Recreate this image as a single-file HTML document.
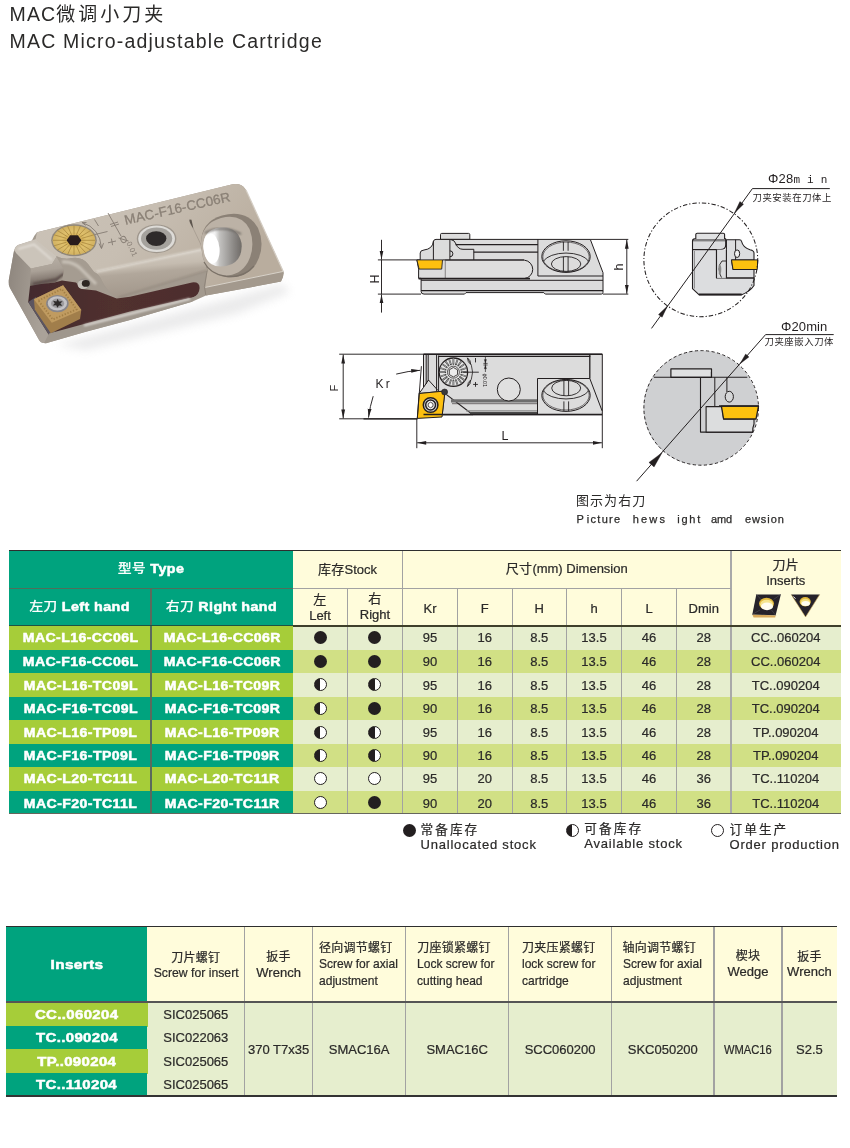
<!DOCTYPE html>
<html lang="zh"><head><meta charset="utf-8"><title>MAC Micro-adjustable Cartridge</title>
<style>
html,body{margin:0;padding:0;background:#fff}
body{width:850px;height:1148px;position:relative;overflow:hidden;font-family:"Liberation Sans","Noto Sans CJK SC",sans-serif;color:#2b2a29}
#pg{position:absolute;left:0;top:0;width:850px;height:1148px;will-change:transform}
.b{position:absolute}
.ttl{position:absolute;font-size:19.5px;line-height:22px;letter-spacing:1.15px;white-space:nowrap;color:#2b2a29}
.ttl .cj{letter-spacing:3px;font-size:19px}
.t,.hw,.mw{position:absolute;text-align:center;white-space:nowrap;font-size:13px}
.t,.t2,.lg,.h2{-webkit-text-stroke:0.22px #2b2a29}
.hw,.mw{color:#fff;font-weight:bold}
.hw{font-size:13px;margin-top:-0.4px}
.mw{font-size:12.8px}
.sx{display:inline-block;transform:scaleX(1.1);letter-spacing:0.38px;-webkit-text-stroke:0.5px #fff}
.hw .cj{font-weight:400;font-size:12.3px;-webkit-text-stroke:0.4px #fff;letter-spacing:0.4px}
.sx2{display:inline-block;transform:scaleX(1.17);letter-spacing:0.3px;-webkit-text-stroke:0.5px #fff}
.cj{font-family:"Noto Sans CJK SC","Liberation Sans",sans-serif}
.t .cj,.t2 .cj{font-size:13px;letter-spacing:0.3px}
.t2{position:absolute;text-align:center;font-size:13px;line-height:16.4px;white-space:nowrap}
.dot{position:absolute;width:13px;height:13px;border-radius:50%;box-sizing:border-box}
.dot.f{background:#231f20}
.dot.o{background:#fff;border:1.3px solid #231f20}
.dot.h{background:linear-gradient(90deg,#231f20 50%,#fff 50%);border:1.3px solid #231f20}
.lg{position:absolute;font-size:13px;line-height:14.5px;letter-spacing:0.8px;white-space:nowrap}
.lg .cj{letter-spacing:2.1px;font-size:12.6px}
.h2{position:absolute;font-size:13px;line-height:17px;white-space:nowrap}
.h2.c{text-align:center}
.h2.cj{font-size:12px;letter-spacing:0.25px}
.h2 .en{display:inline-block;transform:scaleX(0.925);transform-origin:0 50%}
.h2.c .en{transform-origin:50% 50%}
.nar{display:inline-block;transform:scaleX(0.86)}
.cap1{position:absolute;font-family:"Noto Sans CJK SC","Liberation Sans",sans-serif;font-size:13px;line-height:18px;letter-spacing:1.05px;white-space:nowrap}
.cap2{-webkit-text-stroke:0.25px #2b2a29}
.cap2{position:absolute;font-family:"Liberation Sans",sans-serif;font-size:11px;line-height:18px;white-space:nowrap;width:220px;height:18px}
.cap2 span{position:absolute;top:0}
svg{position:absolute;left:0;top:0}
</style></head>
<body>
<div id="pg">
<div class="ttl" style="left:9.5px;top:2.4px">MAC<span class="cj">微调小刀夹</span></div>
<div class="ttl" style="left:9.5px;top:30.2px;letter-spacing:1.2px">MAC Micro-adjustable Cartridge</div>
<svg width="300" height="380" viewBox="0 0 300 380" style="font-family:'Liberation Sans',sans-serif">
<defs>
<filter id="pb" x="-5%" y="-5%" width="110%" height="110%"><feGaussianBlur stdDeviation="0.6"/></filter>
<filter id="sh" x="-30%" y="-80%" width="160%" height="260%"><feGaussianBlur stdDeviation="5"/></filter>
<filter id="b1" x="-30%" y="-30%" width="160%" height="160%"><feGaussianBlur stdDeviation="1.2"/></filter>
<filter id="b2" x="-30%" y="-30%" width="160%" height="160%"><feGaussianBlur stdDeviation="2.5"/></filter>
<linearGradient id="gTop" x1="0" y1="0" x2="1" y2="0.35"><stop offset="0" stop-color="#cbc3b8"/><stop offset="0.5" stop-color="#c7beb2"/><stop offset="1" stop-color="#b9ad9e"/></linearGradient>
<linearGradient id="gLeft" x1="0" y1="0" x2="1" y2="0.3"><stop offset="0" stop-color="#8d857d"/><stop offset="0.6" stop-color="#a0988f"/><stop offset="1" stop-color="#aaa299"/></linearGradient>
<linearGradient id="gBev" x1="0" y1="0" x2="0.2" y2="1"><stop offset="0" stop-color="#d6cfc6"/><stop offset="0.42" stop-color="#c5bcb0"/><stop offset="0.55" stop-color="#b1a79b"/><stop offset="1" stop-color="#a2978b"/></linearGradient>
<linearGradient id="gBrown" x1="0" y1="0" x2="1" y2="0"><stop offset="0" stop-color="#432b2d"/><stop offset="0.5" stop-color="#51302f"/><stop offset="1" stop-color="#4d2e2e"/></linearGradient>
<linearGradient id="gHole" x1="0" y1="0" x2="1" y2="0"><stop offset="0" stop-color="#ffffff"/><stop offset="0.3" stop-color="#f2f2f2"/><stop offset="0.42" stop-color="#c3c2c0"/><stop offset="0.8" stop-color="#8a8784"/><stop offset="1" stop-color="#6f6b67"/></linearGradient>
<radialGradient id="gGold" cx="0.5" cy="0.5" r="0.5"><stop offset="0" stop-color="#c79d42"/><stop offset="0.6" stop-color="#dfc06c"/><stop offset="1" stop-color="#d2b262"/></radialGradient>
<linearGradient id="gNotch" x1="0" y1="0" x2="0.15" y2="1"><stop offset="0" stop-color="#bab2a8"/><stop offset="0.5" stop-color="#aaa197"/><stop offset="0.8" stop-color="#857a72"/><stop offset="1" stop-color="#6b5f59"/></linearGradient>
</defs>
<!-- shadow -->
<path d="M56 345 L282 284 L290 292 L236 314 L86 350 Z" fill="#cfcfd0" filter="url(#sh)" opacity="0.42"/>
<g filter="url(#pb)">
<!-- silhouette / front face -->
<path d="M37 232.3 L232.5 184.3 Q241 182.5 245.3 189 L283.4 271.4 Q284.2 276 281 281.6 L206 295.6 L192 301.8 L130 320 L85 332 L46 343.2 Q41 343.5 38.8 339.5 L10 288 Q8.3 285 8.8 280 L14 251 Q15 246.5 18 245 L31.8 240.7 Q34.5 235 37 232.3 Z" fill="#a39a8f"/>
<!-- left face -->
<path d="M14 251 L31 262 L30 287 L28.5 302 L49 336 L44.2 343 Q41 343.5 38.8 339.5 L10 288 Q8.3 285 8.8 280 Z" fill="url(#gLeft)"/>
<!-- lip on top-left -->
<path d="M14.5 250 Q15 246.5 18 245 L36 239 L57 256 L52 264 L31 268.5 L16 253 Z" fill="#cbc4ba"/>
<path d="M31 268.5 L52 264 L57 256 L66 259 L66 271 L56 282 L30 287 Z" fill="url(#gNotch)"/>
<path d="M33 284 L56 279.5 L64 274" stroke="#5a4c48" stroke-width="2.4" fill="none" filter="url(#b1)"/>
<path d="M18 249 L34 244.5 L52 260" stroke="#e6e2dc" stroke-width="1.6" fill="none" filter="url(#b1)"/>
<!-- top face -->
<path d="M37 232.3 L232.5 184.3 Q241 182.5 245.3 189 L283.4 271.4 L205.3 287.4 L207.2 270.5 L202.5 248.8 L94 272 L88 264 Q82 256.5 72 258 Q64 260 56 256 L35.5 239.5 Z" fill="url(#gTop)"/>
<!-- right block front -->
<path d="M283.4 271.4 Q284.2 276 281 281.6 L206 295.6 L205.3 287.4 Z" fill="#a3998d"/>
<path d="M205.3 287.4 L283.4 271.4" stroke="#d8d2c9" stroke-width="1" fill="none"/>
<path d="M202.5 248.8 L207.2 270.5 L204.4 286.5 L205.8 295" stroke="#8f857a" stroke-width="1" fill="none"/>
<!-- bevel -->
<path d="M94 272 L202.5 248.8 L207.2 270.5 L116.7 298.4 Q106 290 102 281 Q99 274 94 272 Z" fill="url(#gBev)"/>
<path d="M96 271.8 L202 249.3" stroke="#e3ded6" stroke-width="1.8" fill="none" filter="url(#b1)"/>
<path d="M118 297.6 L207 270.2" stroke="#8f857a" stroke-width="1.2" fill="none" filter="url(#b1)"/>
<!-- notch concave -->
<path d="M56 256 Q64 260 72 258 Q82 256.5 88 264 L94 272 Q99 274 102 281 Q106 290 116.7 298.4 L96 291 L82 289.5 L76 283 L62 281 L64 270 Z" fill="#a59c91"/>
<path d="M62 262 Q72 261 80 268 Q88 276 96 284" stroke="#c9c2b8" stroke-width="3" fill="none" filter="url(#b1)"/>
<!-- brown pocket & slot -->
<path d="M30 286 L39.5 284.2 L54.6 282.4 L62 280.5 L76 282.6 L82 289 L96 290.6 L116.7 298.4 L130 296.8 L192 282.4 Q199.8 281.6 199.6 288 Q199.3 295.5 192.1 297.8 L130 312.8 L49 335 L28.2 302 Z" fill="url(#gBrown)"/>
<path d="M28.2 302 L36 297 L56 333 L49 335 Z" fill="#5b5560"/>
<!-- bottom rim -->
<path d="M49 333.5 L130 311.6 L192.1 297.4 L197 296 L192 301.8 L130 320 L85 332 L46 343.2 L44.2 343 Z" fill="#9f978d"/>
<path d="M84 325.6 L190 298.8" stroke="#f4f2ef" stroke-width="1.5" fill="none" filter="url(#b1)"/>
<!-- small screw hole -->
<ellipse cx="84.3" cy="283.6" rx="6.6" ry="5.4" fill="#9b948c"/>
<ellipse cx="83" cy="284.5" rx="5.4" ry="4.6" fill="#c4bfb8"/>
<ellipse cx="85.8" cy="283.4" rx="4" ry="3.4" fill="#2d2524"/>
<!-- insert -->
<path d="M33.9 299.3 L63.1 285.2 L81.3 310 L80 319 L50.8 333.2 L34.8 309.6 Z" fill="#a17e4c"/>
<path d="M33.9 299.3 L63.1 285.2 L81.3 310 L51.8 322.8 Z" fill="#c09b60"/>
<path d="M38.4 300.6 L61.8 289 L76.6 309.4 L52.8 319.4 Z" fill="none" stroke="#a27e45" stroke-width="1.8" stroke-dasharray="1.3 1.7"/>
<ellipse cx="57.4" cy="303.6" rx="11.3" ry="8.6" fill="#87858a"/>
<ellipse cx="57.4" cy="303.4" rx="9.6" ry="7.2" fill="#c4c3c6"/>
<ellipse cx="57.6" cy="303.4" rx="6.6" ry="4.9" fill="#9d9b9e"/>
<path d="M57.6 298.8 L59 301.6 L62.6 301.2 L60.4 303.4 L62.4 305.8 L59 305.4 L57.4 307.8 L56.2 305.2 L52.8 305.6 L54.8 303.2 L53 300.8 L56.4 301.4 Z" fill="#2e2c2b"/>
<!-- gold screw -->
<ellipse cx="74" cy="240.3" rx="22.8" ry="16" fill="#8f877c"/>
<ellipse cx="74" cy="240.3" rx="21.4" ry="14.6" fill="url(#gGold)"/>
<g stroke="#a5833a" stroke-width="0.8" fill="none" opacity="0.9">
<path d="M82 240.3 H95 M81.6 242.2 L94 245.8 M80.4 243.8 L90.8 250.2 M78.6 245 L86 253.1 M76.4 245.8 L80.4 254.6 M74 246 V255 M71.6 245.8 L67.6 254.6 M69.4 245 L62 253.1 M67.6 243.8 L57.2 250.2 M66.4 242.2 L54 245.8 M66 240.3 H53 M66.4 238.4 L54 234.8 M67.6 236.8 L57.2 230.4 M69.4 235.6 L62 227.5 M71.6 234.8 L67.6 226 M74 234.6 V225.6 M76.4 234.8 L80.4 226 M78.6 235.6 L86 227.5 M80.4 236.8 L90.8 230.4 M81.6 238.4 L94 234.8"/>
</g>
<path d="M66.5 240.3 L70.2 235.3 L77.8 235.3 L81.5 240.3 L77.8 245.3 L70.2 245.3 Z" fill="#2a1f1a"/>
<!-- engraved marks -->
<g stroke="#857c73" stroke-width="0.9" fill="none">
<path d="M82 222.5 Q100 228 101.5 248" />
<path d="M99 243.5 L101.5 248.6 L103.5 243.2 M86.5 222.5 L82 222.4 L85.6 225.4"/>
<path d="M94.5 219.5 L98.5 226 M95 234.5 L107.5 231.5 M108 213 L121 236 M110 224.5 L118 222 M111 226.5 L119 224 M108 242.8 L116 241 M111.4 238.6 L112.6 245.2"/>
<ellipse cx="123.5" cy="239.5" rx="3.2" ry="2.6" transform="rotate(65 123.5 239.5)"/>
<path d="M118.5 238 L128.5 241"/>
</g>
<text transform="translate(126.5 243) rotate(65)" font-size="7.4" fill="#857c73" letter-spacing="0.3">0.01</text>
<text transform="translate(125.6 224.8) rotate(-12.7)" font-size="13.4" fill="#8a8076" stroke="#8a8076" stroke-width="0.3" letter-spacing="0.2">MAC-F16-CC06R</text>
<!-- silver screw -->
<ellipse cx="156.6" cy="238.8" rx="19.8" ry="14.4" fill="#9f978d"/>
<ellipse cx="156.6" cy="238.8" rx="18.4" ry="13.2" fill="#dddbd7"/>
<ellipse cx="156.6" cy="238.6" rx="15.6" ry="11.2" fill="#a5a29d"/>
<ellipse cx="156.2" cy="238.6" rx="10.2" ry="7.4" fill="#2f2b29"/>
<!-- notch mark -->
<path d="M189.5 219.5 Q188.5 221.5 193.5 229 L191.5 219.8 Z" fill="#5d554e"/>
<path d="M193 228 L203 249" stroke="#a59b8f" stroke-width="0.8" fill="none"/>
<!-- big hole -->
<path d="M201 246 Q200 222 222 215.5 Q247 209 258 228 Q266 246 256 264 Q246 279 226 277 Q209 275 203 258 Z" fill="#8b8176"/>
<path d="M201 246 Q200 224 221 218 Q241 213 249.5 229 Q256 246 248 262 Q240 276 224 275.5 Q208 274 203 258 Z" fill="#bcb2a6"/>
<path d="M204 262 Q210 274 226 276.4 Q244 278 254 266" stroke="#7a7167" stroke-width="1.2" fill="none"/>
<path d="M203.4 246 Q203.5 229.5 220 227.5 Q238 226 241.5 243 Q243 258 232 264 Q220 269 211 264 Q204 258 203.4 246 Z" fill="url(#gHole)"/>
<ellipse cx="211.5" cy="248.5" rx="8" ry="15.2" fill="#ffffff" transform="rotate(-6 211.5 248.5)"/>
<path d="M205 233 Q222 224 241 234" stroke="#68635e" stroke-width="1.6" fill="none" filter="url(#b1)"/>
<!-- right edge highlight -->
<path d="M246 190 L283 271" stroke="#d5cec5" stroke-width="1.2" fill="none"/>
</g>
</svg>

<svg width="850" height="540" viewBox="0 0 850 540" style="font-family:'Liberation Sans','Noto Sans CJK SC',sans-serif">
<defs>
<marker id="ah" markerWidth="11" markerHeight="6" refX="9" refY="3" orient="auto" markerUnits="userSpaceOnUse"><path d="M0 1.1 L9 3 L0 4.9 Z" fill="#231f20"/></marker>
<marker id="ahs" markerWidth="11" markerHeight="6" refX="0.5" refY="3" orient="auto" markerUnits="userSpaceOnUse"><path d="M9.5 1.1 L0.5 3 L9.5 4.9 Z" fill="#231f20"/></marker>
</defs>
<g fill="none" stroke="#231f20" stroke-width="1" stroke-linejoin="round">
<!-- ===== side view (top drawing) ===== -->
<g>
<path d="M440.5 239.4 V234.6 Q440.5 233.4 441.7 233.4 H468.6 Q469.8 233.4 469.8 234.6 V239.4 Z" fill="#dcdcdc"/>
<path d="M436 239.4 H590.3 L603 272.7 V292.4 Q603 294.1 601.3 294.1 H545.3 L543.8 292.6 H466 L464.5 294.1 H424 Q421.1 294.1 421.1 291.5 V278.3 H418.6 V269.1 L416.9 259.9 H420.2 V253 Q420.2 250.3 424 250 Q432.5 249 433.4 241.5 Q433.6 239.4 436 239.4 Z" fill="#dcdcdc"/>
<path d="M416.9 259.9 H442.5 L441.7 269.1 H419.1 Z" fill="#fdc00f" stroke-width="0.9"/>
<path d="M433.4 241 V259.9 M449.9 239.6 V259.9 M445.4 259.9 V278.3 M442.5 259.9 H524"/>
<path d="M449.9 250.8 A3 3 0 0 1 449.9 256.8"/>
<path d="M451 239.6 Q454.5 240 456 244 Q458 249.3 463 249.3 H473.8 V259.9"/>
<path d="M455.5 244.7 H537.9 M473.8 252.1 H537.9" stroke-width="1.3"/>
<path d="M445.4 260.2 H524.5 A9.2 9.2 0 0 1 524.5 278.5 H445.4" fill="#dedede"/>
<path d="M418.6 278.6 H530" stroke-width="1.6"/>
<path d="M421.1 280.3 H603" />
<path d="M421.1 290.6 H603" stroke-width="1.2"/>
<path d="M537.9 239.4 V276 H603" />
<ellipse cx="566" cy="256.6" rx="24.2" ry="15.8" fill="#dcdcdc"/>
<ellipse cx="566" cy="257" rx="23.2" ry="14.9" stroke-width="0.6"/>
<path d="M543.3 261.4 A23.6 11.5 0 0 1 588.7 261.4" stroke-width="0.9"/>
<ellipse cx="566.1" cy="264" rx="14.7" ry="7.4" stroke-width="0.9"/>
<path d="M563.4 241.8 V250.8 M568.1 241.8 V250.8 M563.4 256.7 V271.6 M568.1 256.7 V271.6" stroke-width="0.9"/>
<!-- dims -->
<path d="M377.9 259.9 H416.9 M377.9 294.1 H421 M590.3 239.4 H628.3 M603 294.1 H628.3" stroke-width="0.95"/>
<path d="M381.5 239.8 V259.6" marker-end="url(#ah)" stroke-width="0.95"/>
<path d="M381.5 312.6 V294.4" marker-end="url(#ah)" stroke-width="0.95"/>
<path d="M381.5 259.9 V294.1" stroke-width="0.95"/>
<path d="M626.8 239.8 V293.8" marker-start="url(#ahs)" marker-end="url(#ah)" stroke-width="0.95"/>
</g>
<!-- ===== top view (bottom drawing) ===== -->
<g>
<path d="M423.5 354.2 H602.3 V414.7 H442.2 L444.6 394.5 L442.9 391.2 L419.1 393.5 L423.5 387.4 Z" fill="#dcdcdc"/>
<path d="M442.2 414.7 H472.9" stroke-width="0.9"/>
<path d="M423.5 354.2 H602.3" stroke-width="1.4"/>
<path d="M426.2 355 V384 M428.2 355 V381 M436.6 355 V391.5 M438.6 355.5 V391"/>
<path d="M423.5 387.4 L428.5 380 L438 390.5"/>
<path d="M438.6 356.4 H590.3" stroke-width="1.3"/>
<path d="M419.1 393.5 L442.9 391.2 L444.6 394.5 L442 417 L417.3 418.4 Z" fill="#fdc00f" stroke-width="1"/>
<circle cx="444.6" cy="392" r="3" fill="#3a3a3a" stroke-width="0.6"/>
<circle cx="430.6" cy="405" r="7.3" fill="#cfcfcf" stroke-width="1.5"/>
<circle cx="430.6" cy="405" r="4.9" fill="#f4f4f4" stroke-width="1.5"/>
<path d="M430.6 402.2 L433 403.6 V406.4 L430.6 407.8 L428.2 406.4 V403.6 Z" fill="#fff" stroke-width="0.8"/>
<path d="M446.5 394.6 L472.9 414.7" stroke-width="1.1"/>
<path d="M451 400.9 H537.6" stroke="#6e6e6e" stroke-width="3.3"/>
<path d="M452 403.7 H537.6" stroke-width="0.6"/>
<path d="M466 410.8 H537.6" stroke="#8a8a8a" stroke-width="1.2"/>
<path d="M470 412.9 H537.6" stroke="#4a4a4a" stroke-width="2"/>
<!-- gear -->
<circle cx="453.4" cy="372.2" r="14.2" fill="#e4e4e4" stroke-width="1.3"/>
<path d="M461.6 372.2 L466.3 372.2 M461.2 374.7 L465.7 376.2 M460.0 377.0 L463.8 379.8 M458.2 378.8 L461.0 382.6 M455.9 380.0 L457.4 384.5 M453.4 380.4 L453.4 385.1 M450.9 380.0 L449.4 384.5 M448.6 378.8 L445.8 382.6 M446.8 377.0 L443.0 379.8 M445.6 374.7 L441.1 376.2 M445.2 372.2 L440.5 372.2 M445.6 369.7 L441.1 368.2 M446.8 367.4 L443.0 364.6 M448.6 365.6 L445.8 361.8 M450.9 364.4 L449.4 359.9 M453.4 364.0 L453.4 359.3 M455.9 364.4 L457.4 359.9 M458.2 365.6 L461.0 361.8 M460.0 367.4 L463.8 364.6 M461.2 369.7 L465.7 368.2" stroke-width="1.7" stroke="#3a3a3a" stroke-linecap="round"/>
<path d="M462.3 372.2 L466.7 372.2 M461.9 375.0 L466.0 376.3 M460.6 377.4 L464.2 380.0 M458.6 379.4 L461.2 383.0 M456.2 380.7 L457.5 384.8 M453.4 381.1 L453.4 385.5 M450.6 380.7 L449.3 384.8 M448.2 379.4 L445.6 383.0 M446.2 377.4 L442.6 380.0 M444.9 375.0 L440.8 376.3 M444.5 372.2 L440.1 372.2 M444.9 369.4 L440.8 368.1 M446.2 367.0 L442.6 364.4 M448.2 365.0 L445.6 361.4 M450.6 363.7 L449.3 359.6 M453.4 363.3 L453.4 358.9 M456.2 363.7 L457.5 359.6 M458.6 365.0 L461.2 361.4 M460.6 367.0 L464.2 364.4 M461.9 369.4 L466.0 368.1" stroke-width="0.55" stroke="#f2f2f2" stroke-linecap="round"/>
<circle cx="453.4" cy="372.2" r="6" fill="#e4e4e4" stroke-width="0.7"/>
<path d="M457.5 374.6 L453.4 376.9 L449.3 374.6 L449.3 369.8 L453.4 367.5 L457.5 369.8 Z" fill="#ececec" stroke-width="0.8"/>
<path d="M467.6 358.2 Q477.6 372.2 467.6 386.2" stroke-width="0.8"/>
<path d="M467.4 357.8 Q471.4 360.5 470.6 364.4 Q467.6 362.5 467.4 357.8 Z M467.4 386.6 Q471.4 383.9 470.6 380 Q467.6 381.9 467.4 386.6 Z" stroke-width="0.7"/>
<path d="M463.2 372.2 H478.8" stroke-width="0.9"/>
<path d="M475.5 358 V362.4 M473.1 384.4 H477.9 M475.5 382 V386.8" stroke-width="0.9"/>
<path d="M485.4 356.6 V372" stroke-width="0.7"/>
<path d="M483.4 363.4 H487.6 M483.4 365 H487.6" stroke-width="0.7"/>
<path d="M485.4 363.2 L484.3 359.6 H486.5 Z M485.4 365.2 L484.3 368.8 H486.5 Z" fill="#231f20" stroke-width="0.3"/>
<circle cx="508.8" cy="389.5" r="11.5" fill="#e0e0e0"/>
<!-- pocket -->
<path d="M537.5 414.4 V378.5 H589.8 L602.3 411.4" fill="#dedede"/>
<path d="M589.8 354.2 V378.5" stroke-width="1.3"/>
<ellipse cx="566" cy="395.4" rx="24.2" ry="16" fill="#dcdcdc"/>
<ellipse cx="566" cy="395" rx="23.2" ry="15" stroke-width="0.6"/>
<path d="M543.3 390.6 A23.6 11.5 0 0 0 588.7 390.6" stroke-width="0.9"/>
<ellipse cx="566.2" cy="388.1" rx="14.5" ry="7.7" stroke-width="0.9"/>
<path d="M563.9 380.8 V395.6 M568.6 380.8 V395.6 M563.9 401.4 V411.2 M568.6 401.4 V411.2" stroke-width="0.9"/>
<path d="M423.5 414.5 H602.3" stroke-width="1.3"/>
<!-- dims -->
<path d="M339.2 354.2 H423.5 M339.2 418.8 H417.3" stroke-width="0.95"/>
<path d="M363.5 418.8 H417.3" stroke-width="1.3"/>
<path d="M343.2 354.6 V418.4" marker-start="url(#ahs)" marker-end="url(#ah)" stroke-width="0.95"/>
<path d="M421.4 366.2 L417.3 418.8" stroke-width="0.95"/>
<path d="M396.2 374.1 Q408 371 420.2 370.3" marker-end="url(#ah)" stroke-width="0.95"/>
<path d="M373.2 396.2 Q370 406 368.5 417.6" marker-end="url(#ah)" stroke-width="0.95"/>
<path d="M416.8 418.8 V448.2 M602.3 414.7 V448.2" stroke-width="0.95"/>
<path d="M417.2 442.8 H601.9" marker-start="url(#ahs)" marker-end="url(#ah)" stroke-width="0.95"/>
</g>
<!-- ===== detail circle 1 ===== -->
<g>
<path d="M692.5 241 Q692.5 238.9 694.6 238.9 H725.7 V245 Q725.7 249.6 720.5 249.6 H716.5 V277.9 H754 V285.5 Q750 291.5 741.7 294.7 H698.9 L692.5 288.6 Z" fill="#dcdddf" stroke-width="1.1"/>
<path d="M726.4 277.9 V239.7 H739.4 Q741.2 239.7 741.6 241.5 Q743 247.6 750 249.8 Q754 250.6 754 253 V260 H731.5 L733 269.5 H754 V277.9 Z" fill="#dcdddf" stroke-width="1.1"/>
<path d="M695.8 238.9 V234.6 Q695.8 233.2 697.2 233.2 H723.2 Q724.6 233.2 724.6 234.6 V238.9" fill="#e1e2e3" stroke-width="1.1"/>
<path d="M693 240.8 H725.4" stroke-width="0.7"/>
<path d="M692.8 249.6 H717" stroke-width="1.2"/>
<path d="M694.4 251 V288.5" stroke="#7d7d7d" stroke-width="0.9"/>
<path d="M698.9 294.5 H741.7" stroke-width="1.8"/>
<path d="M735.6 239.7 V260" />
<rect x="716.5" y="249.6" width="10" height="28.3" fill="#dcdddf" stroke="none"/>
<path d="M716.5 249.6 V277.9 M726.4 249.6 V277.9" stroke-width="1.1"/>
<path d="M726.4 261 H722 Q718.8 264.5 719 269 Q719.2 274 721.5 277.5" stroke-width="0.9"/>
<path d="M719.4 265 Q721.2 269 719.6 274" stroke-width="2" stroke="#8a8a8a"/>
<ellipse cx="737.1" cy="253.7" rx="2.6" ry="3.8" fill="#f0f0f0"/>
<path d="M731.5 259.9 H757.8 L757.2 269.5 H733 Z" fill="#fdc20f" stroke-width="1"/>
<circle cx="700.8" cy="259.8" r="56.9" stroke-dasharray="4.4 2 1.2 2" stroke-width="1.05"/>
<path d="M651.5 328.4 L752.4 188.6 H829.8" stroke-width="1"/>
<path d="M734.5 212.9 L743.5 204.2 L739.9 201.6 Z M667.5 305.9 L662.1 317.2 L658.5 314.6 Z" fill="#231f20" stroke-width="0.4"/>
</g>
<!-- ===== detail circle 2 ===== -->
<g>
<circle cx="700.8" cy="408" r="57.4" fill="#cfd0d2" stroke="none"/>
<rect x="670.9" y="368.9" width="40.6" height="8.4" fill="#dfe0e1" stroke-width="1.2"/>
<path d="M653.9 377.3 H747.3" stroke-width="1.1"/>
<path d="M711.4 376.8 V372"/>
<path d="M700.5 377.3 V432.1 H753" stroke-width="1.1"/>
<path d="M714.8 377.3 V406.5 M726.9 377.3 V392"/>
<path d="M706.1 432.1 V406.6 H722 L723.6 419 H754 V424 Q752.4 428 752.7 432.1 H706.1 Z" fill="#dcddde" stroke-width="1.1"/>
<ellipse cx="729.3" cy="396.7" rx="4.1" ry="5.4" fill="#d6d7d8"/>
<path d="M721.4 406.1 H758.5 L756 419 H723.6 Z" fill="#fdc20f" stroke-width="1.3"/>
<path d="M719 406 H759" stroke-width="1.3"/>
<circle cx="701.2" cy="407.9" r="57.3" stroke-dasharray="3.2 2.4" stroke-width="0.95"/>
<path d="M636.6 481.2 L765.6 334.6 H833.7" stroke-width="1"/>
<path d="M740 363.8 L748.95 356.95 L745.65 354.05 Z M662.1 452.7 L654.05 466.95 L648.95 462.45 Z" fill="#231f20" stroke-width="0.4"/>
</g>
</g>
<!-- labels -->
<g fill="#231f20" stroke="none">
<text transform="translate(378.6 283.6) rotate(-90)" font-size="12.5">H</text>
<text transform="translate(623 270.4) rotate(-90)" font-size="12.5">h</text>
<text transform="translate(338.2 391.6) rotate(-90)" font-size="11">F</text>
<text x="375.6" y="388" font-size="12" letter-spacing="2.2">Kr</text>
<text x="501.6" y="440" font-size="12.5">L</text>
<text x="768" y="183" font-size="13" letter-spacing="0.2">Φ28<tspan font-family="'Liberation Mono',monospace" font-size="11" letter-spacing="7">min</tspan></text>
<text x="752.5" y="201.3" font-size="9.4" letter-spacing="0.55" font-family="'Noto Sans CJK SC','Liberation Sans',sans-serif">刀夹安装在刀体上</text>
<text x="781" y="331" font-size="13" letter-spacing="0.1">Φ20min</text>
<text x="764.5" y="345.4" font-size="9.4" letter-spacing="0.55" font-family="'Noto Sans CJK SC','Liberation Sans',sans-serif">刀夹座嵌入刀体</text>
<text transform="translate(483.3 373.4) rotate(90)" font-size="5.6" letter-spacing="-0.1">ϕ0.01</text>
</g>
</svg>

<div class="cap1" style="left:576px;top:491px">图示为右刀</div>
<div class="cap2" style="left:576px;top:510px"><span style="left:0.4px;letter-spacing:0.00px">P</span><span style="left:10.8px;letter-spacing:1.28px">icture</span><span style="left:56.8px;letter-spacing:2.17px">hews</span><span style="left:101.2px;letter-spacing:1.79px">ight</span><span style="left:135.0px;letter-spacing:-0.10px">amd</span><span style="left:168.9px;letter-spacing:0.95px">ewsion</span></div>
<div class="b" style="left:9px;top:550.4px;width:284.5px;height:76.2px;background:#00a37e;"></div>
<div class="b" style="left:292.5px;top:550.4px;width:548px;height:76.2px;background:#fffcdb;"></div>
<div class="b" style="left:9px;top:625.6px;width:284.5px;height:25.3px;background:#a6cd39;"></div>
<div class="b" style="left:292.5px;top:625.6px;width:548px;height:25.3px;background:#e6eece;"></div>
<div class="b" style="left:9px;top:649.9px;width:284.5px;height:24px;background:#00a37e;"></div>
<div class="b" style="left:292.5px;top:649.9px;width:548px;height:24px;background:#d1e085;"></div>
<div class="b" style="left:9px;top:672.9px;width:284.5px;height:25px;background:#a6cd39;"></div>
<div class="b" style="left:292.5px;top:672.9px;width:548px;height:25px;background:#e6eece;"></div>
<div class="b" style="left:9px;top:696.9px;width:284.5px;height:23.9px;background:#00a37e;"></div>
<div class="b" style="left:292.5px;top:696.9px;width:548px;height:23.9px;background:#d1e085;"></div>
<div class="b" style="left:9px;top:719.8px;width:284.5px;height:25.2px;background:#a6cd39;"></div>
<div class="b" style="left:292.5px;top:719.8px;width:548px;height:25.2px;background:#e6eece;"></div>
<div class="b" style="left:9px;top:744px;width:284.5px;height:24.1px;background:#00a37e;"></div>
<div class="b" style="left:292.5px;top:744px;width:548px;height:24.1px;background:#d1e085;"></div>
<div class="b" style="left:9px;top:767.1px;width:284.5px;height:25px;background:#a6cd39;"></div>
<div class="b" style="left:292.5px;top:767.1px;width:548px;height:25px;background:#e6eece;"></div>
<div class="b" style="left:9px;top:791.1px;width:284.5px;height:22.6px;background:#00a37e;"></div>
<div class="b" style="left:292.5px;top:791.1px;width:548px;height:22.6px;background:#d1e085;"></div>
<div class="hw" style="left:9px;top:550.4px;width:283.5px;height:37.9px;line-height:37.9px;"><span class="sx"><span class="cj">型号</span> Type</span></div>
<div class="hw" style="left:9px;top:588.3px;width:142px;height:37.3px;line-height:37.3px;"><span class="sx"><span class="cj">左刀</span> Left hand</span></div>
<div class="hw" style="left:151px;top:588.3px;width:141.5px;height:37.3px;line-height:37.3px;"><span class="sx"><span class="cj">右刀</span> Right hand</span></div>
<div class="t" style="left:292.5px;top:550.4px;width:110px;height:37.9px;line-height:37.9px;"><span class="cj">库存</span>Stock</div>
<div class="t2" style="left:292.5px;top:590.5px;width:55.0px"><span class="cj">左</span><br>Left</div>
<div class="t2" style="left:347.5px;top:589.5px;width:55.0px"><span class="cj">右</span><br>Right</div>
<div class="t" style="left:402.5px;top:550.4px;width:328.5px;height:36.9px;line-height:36.9px;"><span class="cj">尺寸</span>(mm) Dimension</div>
<div class="t" style="left:402.5px;top:589.5px;width:55px;height:37.3px;line-height:37.3px;">Kr</div>
<div class="t" style="left:457.5px;top:589.5px;width:54.5px;height:37.3px;line-height:37.3px;">F</div>
<div class="t" style="left:512px;top:589.5px;width:54.5px;height:37.3px;line-height:37.3px;">H</div>
<div class="t" style="left:566.5px;top:589.5px;width:55px;height:37.3px;line-height:37.3px;">h</div>
<div class="t" style="left:621.5px;top:589.5px;width:55px;height:37.3px;line-height:37.3px;">L</div>
<div class="t" style="left:676.5px;top:589.5px;width:54.5px;height:37.3px;line-height:37.3px;">Dmin</div>
<div class="t2" style="left:731px;top:555.6px;width:109.5px;line-height:16px"><span class="cj">刀片</span><br>Inserts</div>
<svg width="90" height="30" viewBox="745 590 90 30" style="left:745px;top:590px">
<defs><filter id="ib" x="-10%" y="-10%" width="120%" height="120%"><feGaussianBlur stdDeviation="0.35"/></filter></defs>
<g filter="url(#ib)">
<path d="M752.3 614.6 L775.6 615.4 L775.2 617.6 L753.6 617.5 Z" fill="#d9a95a"/>
<path d="M756.3 594.4 L780.8 594.4 L775.6 615.3 L752.3 614.4 Z" fill="#25232a"/>
<path d="M756.3 594.4 L761 599.5 M780.8 594.4 L773.5 599.5 M775.6 615.3 L771.5 610 M752.3 614.4 L760 610" stroke="#4a4850" stroke-width="0.7" fill="none"/>
<ellipse cx="766.5" cy="603.6" rx="7.5" ry="5.9" fill="#e2b93c"/>
<ellipse cx="766.6" cy="604.3" rx="6.4" ry="4.6" fill="#f6e58f"/>
<ellipse cx="767" cy="606.4" rx="6" ry="3.8" fill="#fffdf0"/>
<path d="M791.1 594.4 L819.8 594.4 L805.6 616.9 Z" fill="#25232a"/>
<path d="M791.3 594.6 L805.4 616.9" stroke="#c9a24e" stroke-width="0.5" fill="none"/>
<path d="M819.6 594.6 L805.8 616.7" stroke="#d9b66a" stroke-width="0.6" fill="none"/>
<path d="M793.4 596.6 L795.6 598.6" stroke="#e8e8ea" stroke-width="1" fill="none"/>
<ellipse cx="805.2" cy="601.7" rx="5.6" ry="4.7" fill="#e2b93c"/>
<ellipse cx="805.4" cy="602.4" rx="4.8" ry="3.6" fill="#f4e080"/>
<ellipse cx="805.7" cy="603.6" rx="4.2" ry="2.5" fill="#fffdf0"/>
</g>
</svg>

<div class="mw" style="left:10px;top:630px;width:142px;height:15px;line-height:15px;"><span class="sx">MAC-L16-CC06L</span></div>
<div class="mw" style="left:151.6px;top:630px;width:141.5px;height:15px;line-height:15px;"><span class="sx">MAC-L16-CC06R</span></div>
<div class="dot f" style="left:314px;top:631px"></div>
<div class="dot f" style="left:368px;top:631px"></div>
<div class="t" style="left:402.5px;top:630px;width:55px;height:15px;line-height:15px;">95</div>
<div class="t" style="left:457.5px;top:630px;width:54.5px;height:15px;line-height:15px;">16</div>
<div class="t" style="left:512px;top:630px;width:54.5px;height:15px;line-height:15px;">8.5</div>
<div class="t" style="left:566.5px;top:630px;width:55px;height:15px;line-height:15px;">13.5</div>
<div class="t" style="left:621.5px;top:630px;width:55px;height:15px;line-height:15px;">46</div>
<div class="t" style="left:676.5px;top:630px;width:54.5px;height:15px;line-height:15px;">28</div>
<div class="t" style="left:731px;top:630px;width:109.5px;height:15px;line-height:15px;">CC..060204</div>
<div class="mw" style="left:10px;top:654px;width:142px;height:15px;line-height:15px;"><span class="sx">MAC-F16-CC06L</span></div>
<div class="mw" style="left:151.6px;top:654px;width:141.5px;height:15px;line-height:15px;"><span class="sx">MAC-F16-CC06R</span></div>
<div class="dot f" style="left:314px;top:655px"></div>
<div class="dot f" style="left:368px;top:655px"></div>
<div class="t" style="left:402.5px;top:654px;width:55px;height:15px;line-height:15px;">90</div>
<div class="t" style="left:457.5px;top:654px;width:54.5px;height:15px;line-height:15px;">16</div>
<div class="t" style="left:512px;top:654px;width:54.5px;height:15px;line-height:15px;">8.5</div>
<div class="t" style="left:566.5px;top:654px;width:55px;height:15px;line-height:15px;">13.5</div>
<div class="t" style="left:621.5px;top:654px;width:55px;height:15px;line-height:15px;">46</div>
<div class="t" style="left:676.5px;top:654px;width:54.5px;height:15px;line-height:15px;">28</div>
<div class="t" style="left:731px;top:654px;width:109.5px;height:15px;line-height:15px;">CC..060204</div>
<div class="mw" style="left:10px;top:678px;width:142px;height:15px;line-height:15px;"><span class="sx">MAC-L16-TC09L</span></div>
<div class="mw" style="left:151.6px;top:678px;width:141.5px;height:15px;line-height:15px;"><span class="sx">MAC-L16-TC09R</span></div>
<div class="dot h" style="left:314px;top:678px"></div>
<div class="dot h" style="left:368px;top:678px"></div>
<div class="t" style="left:402.5px;top:678px;width:55px;height:15px;line-height:15px;">95</div>
<div class="t" style="left:457.5px;top:678px;width:54.5px;height:15px;line-height:15px;">16</div>
<div class="t" style="left:512px;top:678px;width:54.5px;height:15px;line-height:15px;">8.5</div>
<div class="t" style="left:566.5px;top:678px;width:55px;height:15px;line-height:15px;">13.5</div>
<div class="t" style="left:621.5px;top:678px;width:55px;height:15px;line-height:15px;">46</div>
<div class="t" style="left:676.5px;top:678px;width:54.5px;height:15px;line-height:15px;">28</div>
<div class="t" style="left:731px;top:678px;width:109.5px;height:15px;line-height:15px;">TC..090204</div>
<div class="mw" style="left:10px;top:701px;width:142px;height:15px;line-height:15px;"><span class="sx">MAC-F16-TC09L</span></div>
<div class="mw" style="left:151.6px;top:701px;width:141.5px;height:15px;line-height:15px;"><span class="sx">MAC-F16-TC09R</span></div>
<div class="dot h" style="left:314px;top:702px"></div>
<div class="dot f" style="left:368px;top:702px"></div>
<div class="t" style="left:402.5px;top:701px;width:55px;height:15px;line-height:15px;">90</div>
<div class="t" style="left:457.5px;top:701px;width:54.5px;height:15px;line-height:15px;">16</div>
<div class="t" style="left:512px;top:701px;width:54.5px;height:15px;line-height:15px;">8.5</div>
<div class="t" style="left:566.5px;top:701px;width:55px;height:15px;line-height:15px;">13.5</div>
<div class="t" style="left:621.5px;top:701px;width:55px;height:15px;line-height:15px;">46</div>
<div class="t" style="left:676.5px;top:701px;width:54.5px;height:15px;line-height:15px;">28</div>
<div class="t" style="left:731px;top:701px;width:109.5px;height:15px;line-height:15px;">TC..090204</div>
<div class="mw" style="left:10px;top:725px;width:142px;height:15px;line-height:15px;"><span class="sx">MAC-L16-TP09L</span></div>
<div class="mw" style="left:151.6px;top:725px;width:141.5px;height:15px;line-height:15px;"><span class="sx">MAC-L16-TP09R</span></div>
<div class="dot h" style="left:314px;top:726px"></div>
<div class="dot h" style="left:368px;top:726px"></div>
<div class="t" style="left:402.5px;top:725px;width:55px;height:15px;line-height:15px;">95</div>
<div class="t" style="left:457.5px;top:725px;width:54.5px;height:15px;line-height:15px;">16</div>
<div class="t" style="left:512px;top:725px;width:54.5px;height:15px;line-height:15px;">8.5</div>
<div class="t" style="left:566.5px;top:725px;width:55px;height:15px;line-height:15px;">13.5</div>
<div class="t" style="left:621.5px;top:725px;width:55px;height:15px;line-height:15px;">46</div>
<div class="t" style="left:676.5px;top:725px;width:54.5px;height:15px;line-height:15px;">28</div>
<div class="t" style="left:731px;top:725px;width:109.5px;height:15px;line-height:15px;">TP..090204</div>
<div class="mw" style="left:10px;top:748px;width:142px;height:15px;line-height:15px;"><span class="sx">MAC-F16-TP09L</span></div>
<div class="mw" style="left:151.6px;top:748px;width:141.5px;height:15px;line-height:15px;"><span class="sx">MAC-F16-TP09R</span></div>
<div class="dot h" style="left:314px;top:749px"></div>
<div class="dot h" style="left:368px;top:749px"></div>
<div class="t" style="left:402.5px;top:748px;width:55px;height:15px;line-height:15px;">90</div>
<div class="t" style="left:457.5px;top:748px;width:54.5px;height:15px;line-height:15px;">16</div>
<div class="t" style="left:512px;top:748px;width:54.5px;height:15px;line-height:15px;">8.5</div>
<div class="t" style="left:566.5px;top:748px;width:55px;height:15px;line-height:15px;">13.5</div>
<div class="t" style="left:621.5px;top:748px;width:55px;height:15px;line-height:15px;">46</div>
<div class="t" style="left:676.5px;top:748px;width:54.5px;height:15px;line-height:15px;">28</div>
<div class="t" style="left:731px;top:748px;width:109.5px;height:15px;line-height:15px;">TP..090204</div>
<div class="mw" style="left:10px;top:771px;width:142px;height:15px;line-height:15px;"><span class="sx">MAC-L20-TC11L</span></div>
<div class="mw" style="left:151.6px;top:771px;width:141.5px;height:15px;line-height:15px;"><span class="sx">MAC-L20-TC11R</span></div>
<div class="dot o" style="left:314px;top:772px"></div>
<div class="dot o" style="left:368px;top:772px"></div>
<div class="t" style="left:402.5px;top:771px;width:55px;height:15px;line-height:15px;">95</div>
<div class="t" style="left:457.5px;top:771px;width:54.5px;height:15px;line-height:15px;">20</div>
<div class="t" style="left:512px;top:771px;width:54.5px;height:15px;line-height:15px;">8.5</div>
<div class="t" style="left:566.5px;top:771px;width:55px;height:15px;line-height:15px;">13.5</div>
<div class="t" style="left:621.5px;top:771px;width:55px;height:15px;line-height:15px;">46</div>
<div class="t" style="left:676.5px;top:771px;width:54.5px;height:15px;line-height:15px;">36</div>
<div class="t" style="left:731px;top:771px;width:109.5px;height:15px;line-height:15px;">TC..110204</div>
<div class="mw" style="left:10px;top:796px;width:142px;height:15px;line-height:15px;"><span class="sx">MAC-F20-TC11L</span></div>
<div class="mw" style="left:151.6px;top:796px;width:141.5px;height:15px;line-height:15px;"><span class="sx">MAC-F20-TC11R</span></div>
<div class="dot o" style="left:314px;top:796px"></div>
<div class="dot f" style="left:368px;top:796px"></div>
<div class="t" style="left:402.5px;top:796px;width:55px;height:15px;line-height:15px;">90</div>
<div class="t" style="left:457.5px;top:796px;width:54.5px;height:15px;line-height:15px;">20</div>
<div class="t" style="left:512px;top:796px;width:54.5px;height:15px;line-height:15px;">8.5</div>
<div class="t" style="left:566.5px;top:796px;width:55px;height:15px;line-height:15px;">13.5</div>
<div class="t" style="left:621.5px;top:796px;width:55px;height:15px;line-height:15px;">46</div>
<div class="t" style="left:676.5px;top:796px;width:54.5px;height:15px;line-height:15px;">36</div>
<div class="t" style="left:731px;top:796px;width:109.5px;height:15px;line-height:15px;">TC..110204</div>
<div class="b" style="left:346.875px;top:588.3px;width:1.25px;height:225.4px;background:#a2a2a2"></div>
<div class="b" style="left:401.875px;top:550.4px;width:1.25px;height:263.3px;background:#a2a2a2"></div>
<div class="b" style="left:730.475px;top:550.4px;width:1.05px;height:263.3px;background:#a9a9a9"></div>
<div class="b" style="left:456.875px;top:588.3px;width:1.25px;height:225.4px;background:#a2a2a2"></div>
<div class="b" style="left:511.775px;top:588.3px;width:1.25px;height:225.4px;background:#a2a2a2"></div>
<div class="b" style="left:565.875px;top:588.3px;width:1.25px;height:225.4px;background:#a2a2a2"></div>
<div class="b" style="left:620.875px;top:588.3px;width:1.25px;height:225.4px;background:#a2a2a2"></div>
<div class="b" style="left:675.875px;top:588.3px;width:1.25px;height:225.4px;background:#a2a2a2"></div>
<div class="b" style="left:150.45px;top:588.3px;width:1.1px;height:225.4px;background:#5a6a5c"></div>
<div class="b" style="left:9px;top:587.75px;width:283.5px;height:1.1px;background:#4f6f5a"></div>
<div class="b" style="left:292.5px;top:587.675px;width:438.5px;height:1.25px;background:#a2a2a2"></div>
<div class="b" style="left:9px;top:549.7px;width:831.5px;height:1.4px;background:#2e2e2e"></div>
<div class="b" style="left:9px;top:624.85px;width:283.5px;height:1.5px;background:#1d5443"></div>
<div class="b" style="left:292.5px;top:624.75px;width:548px;height:2.1px;background:#3f3f2a"></div>
<div class="b" style="left:9px;top:813px;width:831.5px;height:1.4px;background:#66665c"></div>
<div class="dot f" style="left:403px;top:824px"></div>
<div class="lg" style="left:420.5px;top:822px"><span class="cj">常备库存</span><br>Unallocated stock</div>
<div class="dot h" style="left:566px;top:824px"></div>
<div class="lg" style="left:584.3px;top:821px"><span class="cj">可备库存</span><br>Available stock</div>
<div class="dot o" style="left:711px;top:824px"></div>
<div class="lg" style="left:729.5px;top:822px"><span class="cj">订单生产</span><br>Order production</div>
<div class="b" style="left:147px;top:926.3px;width:689.8px;height:76.7px;background:#fffcdb;"></div>
<div class="b" style="left:147px;top:1002px;width:689.8px;height:94.2px;background:#e6eece;"></div>
<div class="b" style="left:6px;top:926.3px;width:141px;height:76.7px;background:#00a37e;"></div>
<div class="b" style="left:6px;top:1002px;width:142.2px;height:24.7px;background:#a6cd39;"></div>
<div class="mw" style="left:6px;top:1007.4px;width:141px;height:15px;line-height:15px;"><span class="sx2">CC..060204</span></div>
<div class="t" style="left:147px;top:1007.4px;width:97.6px;height:15px;line-height:15px;">SIC025065</div>
<div class="b" style="left:6px;top:1025.7px;width:141px;height:24.5px;background:#00a37e;"></div>
<div class="mw" style="left:6px;top:1030px;width:141px;height:15px;line-height:15px;"><span class="sx2">TC..090204</span></div>
<div class="t" style="left:147px;top:1030px;width:97.6px;height:15px;line-height:15px;">SIC022063</div>
<div class="b" style="left:6px;top:1049.2px;width:142.2px;height:24.6px;background:#a6cd39;"></div>
<div class="mw" style="left:6px;top:1054px;width:141px;height:15px;line-height:15px;"><span class="sx2">TP..090204</span></div>
<div class="t" style="left:147px;top:1054px;width:97.6px;height:15px;line-height:15px;">SIC025065</div>
<div class="b" style="left:6px;top:1072.8px;width:141px;height:23.4px;background:#00a37e;"></div>
<div class="mw" style="left:6px;top:1077px;width:141px;height:15px;line-height:15px;"><span class="sx2">TC..110204</span></div>
<div class="t" style="left:147px;top:1077px;width:97.6px;height:15px;line-height:15px;">SIC025065</div>
<div class="mw" style="left:7px;top:956.6px;width:141px;height:15px;line-height:15px;"><span class="sx2" style="transform:scaleX(1.2)">Inserts</span></div>
<div class="h2 cj" style="left:147px;width:97.6px;text-align:center;top:948.7px;line-height:16px">刀片螺钉</div>
<div class="h2 c" style="left:147px;width:97.6px;text-align:center;top:965px;line-height:15px"><span class="en" style="transform:scaleX(0.94)">Screw for insert</span></div>
<div class="h2 cj" style="left:244.6px;width:68px;text-align:center;top:948.2px;line-height:16px">扳手</div>
<div class="h2 c" style="left:244.6px;width:68px;text-align:center;top:964.5px;line-height:15px"><span class="en" style="transform:scaleX(1)">Wrench</span></div>
<div class="h2 cj" style="left:319px;top:938.7px;line-height:16px">径向调节螺钉</div>
<div class="h2 " style="left:319px;top:956.4px;line-height:15px"><span class="en">Screw for axial</span></div>
<div class="h2 " style="left:319px;top:973px;line-height:15px"><span class="en">adjustment</span></div>
<div class="h2 cj" style="left:417.2px;top:938.7px;line-height:16px">刀座锁紧螺钉</div>
<div class="h2 " style="left:417.2px;top:956.4px;line-height:15px"><span class="en">Lock screw for</span></div>
<div class="h2 " style="left:417.2px;top:973px;line-height:15px"><span class="en">cutting head</span></div>
<div class="h2 cj" style="left:522px;top:938.7px;line-height:16px">刀夹压紧螺钉</div>
<div class="h2 " style="left:522px;top:956.4px;line-height:15px"><span class="en">lock screw for</span></div>
<div class="h2 " style="left:522px;top:973px;line-height:15px"><span class="en">cartridge</span></div>
<div class="h2 cj" style="left:622.6px;top:938.7px;line-height:16px">轴向调节螺钉</div>
<div class="h2 " style="left:622.6px;top:956.4px;line-height:15px"><span class="en">Screw for axial</span></div>
<div class="h2 " style="left:622.6px;top:973px;line-height:15px"><span class="en">adjustment</span></div>
<div class="h2 cj" style="left:714px;width:68px;text-align:center;top:947.2px;line-height:16px">楔块</div>
<div class="h2 c" style="left:714px;width:68px;text-align:center;top:963.5px;line-height:15px"><span class="en" style="transform:scaleX(1)">Wedge</span></div>
<div class="h2 cj" style="left:782px;width:54.8px;text-align:center;top:947.7px;line-height:16px">扳手</div>
<div class="h2 c" style="left:782px;width:54.8px;text-align:center;top:964px;line-height:15px"><span class="en" style="transform:scaleX(1)">Wrench</span></div>
<div class="t" style="left:244.6px;top:1002px;width:68px;height:95.2px;line-height:95.2px;">370 T7x35</div>
<div class="t" style="left:312.6px;top:1002px;width:93px;height:95.2px;line-height:95.2px;">SMAC16A</div>
<div class="t" style="left:405.6px;top:1002px;width:103px;height:95.2px;line-height:95.2px;">SMAC16C</div>
<div class="t" style="left:508.6px;top:1002px;width:103px;height:95.2px;line-height:95.2px;">SCC060200</div>
<div class="t" style="left:611.6px;top:1002px;width:102.4px;height:95.2px;line-height:95.2px;">SKC050200</div>
<div class="t" style="left:714px;top:1002px;width:68px;height:95.2px;line-height:95.2px;"><span class="nar">WMAC16</span></div>
<div class="t" style="left:782px;top:1002px;width:54.8px;height:95.2px;line-height:95.2px;">S2.5</div>
<div class="b" style="left:243.875px;top:926.3px;width:1.25px;height:169.9px;background:#a2a2a2"></div>
<div class="b" style="left:311.875px;top:926.3px;width:1.25px;height:169.9px;background:#a2a2a2"></div>
<div class="b" style="left:404.875px;top:926.3px;width:1.25px;height:169.9px;background:#a2a2a2"></div>
<div class="b" style="left:507.875px;top:926.3px;width:1.25px;height:169.9px;background:#a2a2a2"></div>
<div class="b" style="left:610.875px;top:926.3px;width:1.25px;height:169.9px;background:#a2a2a2"></div>
<div class="b" style="left:713.375px;top:926.3px;width:1.25px;height:169.9px;background:#a2a2a2"></div>
<div class="b" style="left:781.375px;top:926.3px;width:1.25px;height:169.9px;background:#a2a2a2"></div>
<div class="b" style="left:6px;top:925.6px;width:830.8px;height:1.4px;background:#2e2e2e"></div>
<div class="b" style="left:6px;top:1001.45px;width:830.8px;height:1.1px;background:#555"></div>
<div class="b" style="left:6px;top:1095.4px;width:830.8px;height:1.6px;background:#333"></div>
</div>
</body></html>
